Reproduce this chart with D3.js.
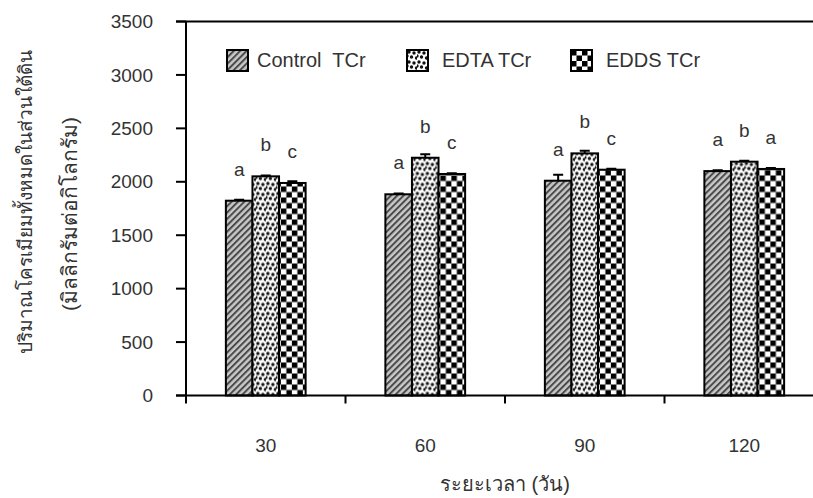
<!DOCTYPE html>
<meta charset="utf-8">
<style>
body { margin: 0; background: #fff; }
svg text { font-family: "Liberation Sans", Arial, sans-serif; fill: #333; white-space: pre; }
.bar { stroke: #000; stroke-width: 2; }
.err { stroke: #000; stroke-width: 2; fill: none; }
.axis-line { stroke: #000; stroke-width: 2; fill: none; }
</style>
<svg width="813" height="498"></svg>
<script src="https://d3js.org/d3.v7.min.js"></script>
<script>

// days after treatment
var days = ["30", "60", "90", "120"];
var seriesNames = ["Control  TCr", "EDTA TCr", "EDDS TCr"];

// total chromium in below-ground part (mg/kg)
var control = [1823, 1883, 2010, 2100];
var edta    = [2051, 2225, 2266, 2188];
var edds    = [1989, 2073, 2113, 2120];

var controlErr = [8, 8, 55, 8];
var edtaErr    = [8, 32, 24, 8];
var eddsErr    = [16, 8, 8, 8];

var controlSig = ["a", "a", "a", "a"];
var edtaSig    = ["b", "b", "b", "b"];
var eddsSig    = ["c", "c", "c", "a"];

var yTicks = [0, 500, 1000, 1500, 2000, 2500, 3000, 3500];

var svg = d3.select("svg"),
    margin = {top: 21.5, left: 186},
    width = 638,
    height = 374;

var values = [control, edta, edds],
    errs = [controlErr, edtaErr, eddsErr],
    sigs = [controlSig, edtaSig, eddsSig],
    fills = ["url(#hatch)", "url(#dots)", "url(#checker)"];

// patterns
var defs = svg.append("defs");

var hatch = defs.append("pattern")
    .attr("id", "hatch")
    .attr("patternUnits", "userSpaceOnUse")
    .attr("width", 4.5).attr("height", 4.5)
    .attr("patternTransform", "rotate(45)");
hatch.append("rect").attr("width", 4.5).attr("height", 4.5).attr("fill", "#c8c8c8");
hatch.append("rect").attr("width", 2).attr("height", 4.5).attr("fill", "#4a4a4a");

var dots = defs.append("pattern")
    .attr("id", "dots")
    .attr("patternUnits", "userSpaceOnUse")
    .attr("width", 10).attr("height", 10);
dots.append("rect").attr("width", 10).attr("height", 10).attr("fill", "#fff");
[[2, 2], [7, 3], [4.5, 7], [9.5, 8], [0, 6]].forEach(function(p) {
  dots.append("circle").attr("cx", p[0]).attr("cy", p[1]).attr("r", 1.7).attr("fill", "#111");
});

var checker = defs.append("pattern")
    .attr("id", "checker")
    .attr("patternUnits", "userSpaceOnUse")
    .attr("width", 11).attr("height", 11);
checker.append("rect").attr("width", 11).attr("height", 11).attr("fill", "#fff");
checker.append("rect").attr("width", 5.5).attr("height", 5.5).attr("fill", "#000");
checker.append("rect").attr("x", 5.5).attr("y", 5.5).attr("width", 5.5).attr("height", 5.5).attr("fill", "#000");

var g = svg.append("g")
    .attr("transform", "translate(" + margin.left + "," + margin.top + ")");

var x0 = d3.scaleBand()
    .domain(days)
    .range([0, width])
    .paddingInner(0.5)
    .paddingOuter(0.25);

var x1 = d3.scaleBand()
    .domain(d3.range(seriesNames.length))
    .range([0, x0.bandwidth()]);

var y = d3.scaleLinear()
    .domain([0, 3500])
    .range([height, 0]);

// bars
var groups = g.selectAll(".group")
  .data(days)
  .enter().append("g")
    .attr("class", "group")
    .attr("transform", function(d) { return "translate(" + x0(d) + ",0)"; });

groups.each(function(day, i) {
  var grp = d3.select(this);
  var rows = seriesNames.map(function(s, k) {
    return {k: k, v: values[k][i], e: errs[k][i], sig: sigs[k][i]};
  });

  grp.selectAll(".err")
    .data(rows)
    .enter().append("path")
      .attr("class", "err")
      .attr("d", function(d) {
        var cx = x1(d.k) + x1.bandwidth() / 2;
        return "M" + cx + "," + y(d.v) + "V" + y(d.v + d.e) +
               "M" + (cx - 5) + "," + y(d.v + d.e) + "H" + (cx + 5);
      });

  grp.selectAll(".bar")
    .data(rows)
    .enter().append("rect")
      .attr("class", "bar")
      .attr("x", function(d) { return x1(d.k); })
      .attr("y", function(d) { return y(d.v); })
      .attr("width", x1.bandwidth())
      .attr("height", function(d) { return height - y(d.v); })
      .attr("fill", function(d) { return fills[d.k]; });

  grp.selectAll(".sig")
    .data(rows)
    .enter().append("text")
      .attr("class", "sig")
      .attr("x", function(d) { return x1(d.k) + x1.bandwidth() / 2; })
      .attr("y", function(d) { return y(d.v) - 25; })
      .attr("text-anchor", "middle")
      .style("font-size", "19px")
      .text(function(d) { return d.sig; });
});

// y axis
g.append("path")
    .attr("class", "axis-line")
    .attr("d", "M0," + y(3500) + "V" + y(0));

g.append("path")
    .attr("class", "axis-line")
    .attr("d", "M-10," + y(3500) + "H" + width);

g.append("path")
    .attr("class", "axis-line")
    .attr("d", "M-10," + y(0) + "H" + width);

g.selectAll(".ytick")
  .data(yTicks)
  .enter().append("path")
    .attr("class", "axis-line")
    .attr("d", function(d) { return "M-10," + y(d) + "H0"; });

g.selectAll(".ylabel")
  .data(yTicks)
  .enter().append("text")
    .attr("x", -33)
    .attr("y", function(d) { return y(d); })
    .attr("dy", "0.35em")
    .attr("text-anchor", "end")
    .style("font-size", "19px")
    .text(function(d) { return d; });

// x axis ticks at band boundaries
var step = x0.step();
g.selectAll(".xtick")
  .data(days)
  .enter().append("path")
    .attr("class", "axis-line")
    .attr("d", function(d) { return "M" + (x0(d) - step * 0.25) + "," + height + "v8"; });

g.selectAll(".xlabel")
  .data(days)
  .enter().append("text")
    .attr("x", function(d) { return x0(d) + x0.bandwidth() / 2; })
    .attr("y", height + 56)
    .attr("text-anchor", "middle")
    .style("font-size", "19px")
    .text(function(d) { return d; });

// axis titles
svg.append("text")
    .attr("x", margin.left + width / 2)
    .attr("y", 491)
    .attr("text-anchor", "middle")
    .style("font-size", "20px")
    .text("ระยะเวลา (วัน)");

svg.append("text")
    .attr("transform", "translate(32,202) rotate(-90)")
    .attr("text-anchor", "middle")
    .style("font-size", "19px")
    .text("ปริมาณโครเมียมทั้งหมดในส่วนใต้ดิน");

svg.append("text")
    .attr("transform", "translate(77,214) rotate(-90)")
    .attr("text-anchor", "middle")
    .style("font-size", "21px")
    .text("(มิลลิกรัมต่อกิโลกรัม)");

// legend
var legendX = [227, 407, 571];
var legend = svg.selectAll(".legend")
  .data(seriesNames)
  .enter().append("g")
    .attr("class", "legend")
    .attr("transform", function(d, i) { return "translate(" + legendX[i] + ",50)"; });

legend.append("rect")
    .attr("width", 21)
    .attr("height", 21)
    .attr("fill", function(d, i) { return fills[i]; })
    .attr("stroke", "#000")
    .attr("stroke-width", 2);

legend.append("text")
    .attr("x", function(d, i) { return i === 0 ? 30 : 35; })
    .attr("y", 17)
    .style("font-size", "20px")
    .text(function(d) { return d; });

</script>
